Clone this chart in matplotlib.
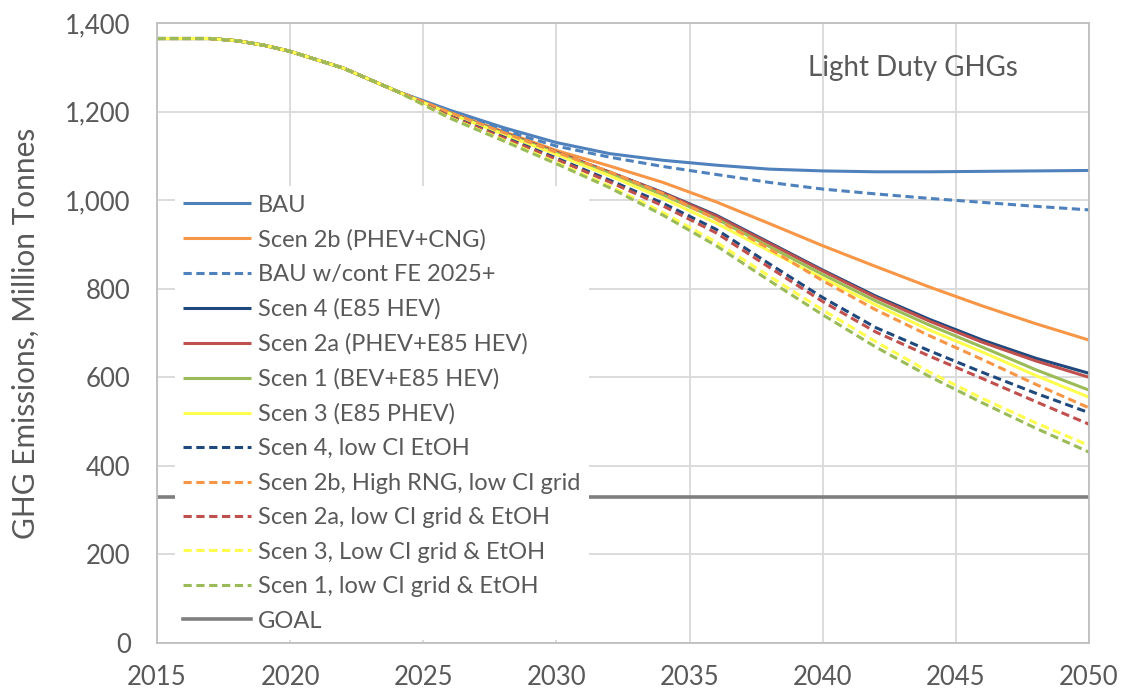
import matplotlib
matplotlib.use('Agg')
import matplotlib.pyplot as plt

plt.rcParams['font.family'] = ['Lato', 'DejaVu Sans']

# Years on the x axis
years = [2015, 2016, 2017, 2018, 2019, 2020, 2022, 2024,
         2026, 2028, 2030, 2032, 2034, 2036, 2038, 2040, 2042, 2044, 2046, 2048, 2050]

# Shared history up to 2024 (all scenarios coincide)
trunk = [1365, 1365, 1365, 1360, 1350, 1336, 1298, 1246]

# Scenario values 2026-2050, million tonnes
bau = [1203, 1164, 1130, 1105, 1090, 1079, 1070, 1066, 1064, 1064, 1065, 1066, 1067]
scen2b = [1198, 1155, 1112, 1077, 1040, 996, 947, 897, 850, 804, 761, 721, 684]
bau_fe = [1201, 1158, 1122, 1097, 1076, 1058, 1040, 1025, 1014, 1004, 995, 986, 978]
scen4 = [1196, 1152, 1108, 1063, 1017, 966, 904, 842, 783, 731, 684, 643, 609]
scen2a = [1196, 1152, 1108, 1063, 1016, 964, 902, 840, 780, 727, 679, 637, 600]
scen1 = [1196, 1151, 1106, 1060, 1012, 958, 895, 832, 772, 718, 668, 617, 571]
scen3 = [1195, 1149, 1103, 1055, 1004, 948, 885, 824, 763, 707, 657, 604, 555]
scen4_low = [1190, 1143, 1095, 1045, 993, 934, 856, 780, 712, 660, 611, 564, 520]
scen2b_low = [1198, 1153, 1108, 1064, 1015, 957, 890, 818, 752, 694, 640, 584, 531]
scen2a_low = [1189, 1141, 1092, 1041, 987, 926, 848, 771, 702, 648, 597, 545, 494]
scen3_low = [1186, 1136, 1085, 1032, 972, 905, 828, 752, 680, 612, 552, 497, 446]
scen1_low = [1185, 1134, 1082, 1028, 966, 897, 818, 741, 668, 602, 542, 485, 431]
goal = 330

labels = ['BAU', 'Scen 2b (PHEV+CNG)', 'BAU w/cont FE 2025+', 'Scen 4 (E85 HEV)',
          'Scen 2a (PHEV+E85 HEV)', 'Scen 1 (BEV+E85 HEV)', 'Scen 3 (E85 PHEV)',
          'Scen 4, low CI EtOH', 'Scen 2b, High RNG, low CI grid',
          'Scen 2a, low CI grid & EtOH', 'Scen 3, Low CI grid & EtOH',
          'Scen 1, low CI grid & EtOH', 'GOAL']

series = [bau, scen2b, bau_fe, scen4, scen2a, scen1, scen3,
          scen4_low, scen2b_low, scen2a_low, scen3_low, scen1_low]
colors = ['#4F81BD', '#F79646', '#4F81BD', '#1F497D', '#C0504D', '#9BBB59', '#FFFF4F',
          '#1F497D', '#F79646', '#C0504D', '#FFFF4F', '#9BBB59']
dashed = [False, False, True, False, False, False, False,
          True, True, True, True, True]

txt = '#595959'

fig = plt.figure(figsize=(11.22, 6.89), dpi=100)
ax = fig.add_axes([0.140, 0.0668, 0.8306, 0.8998])

for vals, c, d, lab in zip(series, colors, dashed, labels):
    ls = (0, (2.7, 1.5)) if d else '-'
    ax.plot(years, trunk + vals, color=c, lw=2.2, ls=ls, label=lab,
            solid_capstyle='butt', dash_capstyle='butt')

ax.plot([years[0], years[-1]], [goal, goal], color='#7F7F7F', lw=2.6, label=labels[-1])

ax.set_xlim(2015, 2050)
ax.set_ylim(0, 1400)
ax.set_xticks(range(2015, 2051, 5))
ax.set_yticks(range(0, 1401, 200))
ax.yaxis.set_major_formatter(matplotlib.ticker.StrMethodFormatter('{x:,.0f}'))
ax.tick_params(length=0, labelsize=18.5, colors=txt)
ax.tick_params(axis='y', pad=19)
ax.tick_params(axis='x', pad=16)
ax.grid(True, color='#D9D9D9', lw=1.3)
ax.set_axisbelow(True)
for s in ax.spines.values():
    s.set_color('#BFBFBF')
    s.set_linewidth(1.3)

ax.set_ylabel('GHG Emissions, Million Tonnes', fontsize=21.5, color=txt)
ax.yaxis.set_label_coords(-0.126, 0.5)

ax.text(0.698, 0.927, 'Light Duty GHGs', transform=ax.transAxes,
        fontsize=20, color=txt, va='center', ha='left')

leg = ax.legend(loc='lower left', bbox_to_anchor=(0.019, 0.005), borderaxespad=0,
                fontsize=17, frameon=True, fancybox=False, framealpha=1,
                handlelength=2.88, handletextpad=0.3, labelspacing=0.57,
                borderpad=0.35)
leg.get_frame().set_edgecolor('none')
leg.get_frame().set_facecolor('white')
for t in leg.get_texts():
    t.set_color(txt)

plt.savefig('out.png', dpi=100)
